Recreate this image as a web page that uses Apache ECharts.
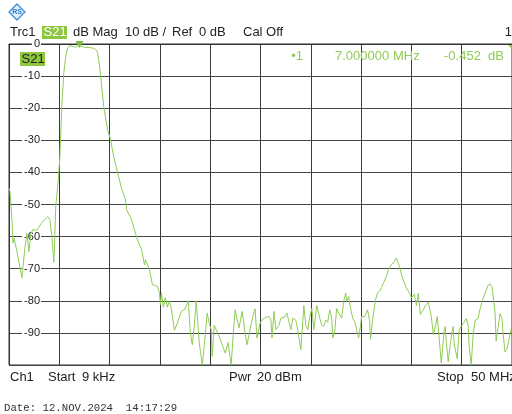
<!DOCTYPE html>
<html>
<head>
<meta charset="utf-8">
<script src="https://cdn.jsdelivr.net/npm/echarts@6/dist/echarts.min.js"></script>
<style>html,body{margin:0;padding:0;background:#fff}#c{width:512px;height:414px}</style>
</head>
<body>
<div id="c"></div>
<script>
// Frequency in MHz
var freqMHz = [0.01,0.1,0.3,0.4,0.5,0.59,0.79,0.99,1.29,1.58,1.78,1.98,2.18,2.38,2.77,3.27,3.86,4.06,4.26,4.46,4.55,4.65,4.85,4.95,5.05,5.25,5.45,5.64,5.84,6.04,6.34,6.63,7.0,7.43,8.02,8.51,8.71,8.81,9.01,9.21,9.41,9.8,10.1,10.4,10.79,11.19,11.58,11.68,12.18,12.48,12.77,13.17,13.47,13.56,13.96,14.26,14.75,14.95,15.05,15.15,15.35,15.54,15.74,15.94,16.14,16.44,16.73,17.13,17.43,17.62,17.82,18.02,18.22,18.42,18.61,18.91,19.21,19.41,19.7,19.9,20.1,20.2,20.4,20.59,20.89,21.19,21.49,21.78,22.08,22.28,22.48,22.67,22.87,23.17,23.47,23.66,23.96,24.26,24.46,24.65,24.95,25.25,25.64,25.84,26.04,26.14,26.34,26.53,26.83,27.03,27.43,27.62,27.82,28.02,28.22,28.51,28.71,29.01,29.21,29.31,29.5,29.7,29.9,30.1,30.3,30.59,30.89,31.09,31.29,31.49,31.68,31.88,32.08,32.18,32.38,32.57,32.77,33.07,33.27,33.47,33.56,33.76,33.96,34.16,34.36,34.55,34.75,34.95,35.05,35.35,35.64,35.84,35.94,36.14,36.44,36.63,36.83,37.03,37.23,37.33,37.52,37.72,38.02,38.32,38.51,38.81,39.11,39.5,39.9,40.0,40.3,40.5,40.69,40.89,41.19,41.39,41.68,41.98,42.18,42.38,42.57,42.77,42.97,43.07,43.27,43.37,43.47,43.66,43.76,43.86,44.06,44.16,44.26,44.36,44.55,44.75,44.95,45.25,45.45,45.64,45.74,45.94,46.14,46.34,46.63,46.83,47.03,47.23,47.43,47.62,47.82,48.02,48.22,48.32,48.42,48.61,48.81,49.01,49.11,49.31,49.5,49.7,49.9];
// S21 magnitude in dB
var s21dB = [-44.9,-46,-55,-62,-60.5,-61,-64.6,-68,-72.8,-63.5,-59,-64.7,-59,-57.8,-58,-55.6,-53.8,-54.7,-60,-68,-60,-50.6,-44,-40,-35.4,-19.4,-9,-3.9,-1.2,-0.5,-0.7,-1.0,-0.452,-1.0,-1.1,-1.4,-2.0,-2.8,-7,-13,-19.4,-26.7,-29.8,-35,-40,-45,-48.5,-51.6,-54.7,-58,-61,-64,-68.8,-67.2,-70.3,-75,-75.5,-77.5,-81.2,-77.5,-82,-79,-82,-80,-82.5,-89.2,-87,-83.3,-82.8,-83.3,-80,-90,-93.7,-88,-80,-93,-100,-94,-83.8,-87,-89,-97.3,-87.6,-89,-91,-93.7,-96.3,-93,-100,-91,-82.8,-85.7,-88.4,-83.3,-90,-93.7,-89,-84.6,-82.5,-91.6,-87,-85.7,-85,-84.9,-86,-91.6,-83.3,-89,-87.6,-85.4,-85,-83.8,-86.4,-89,-85.4,-86,-89.2,-95.2,-86,-81.5,-87.6,-89,-85,-82.4,-89,-81.5,-85.4,-87.6,-88,-86,-86.7,-82.8,-85.4,-91.6,-89.6,-82.4,-83.8,-85.4,-80.2,-77.6,-80.2,-78.6,-82.4,-85.4,-86.4,-87,-91.6,-87.6,-84.9,-84.9,-82.8,-86,-92,-86,-79.6,-77.6,-77,-75.9,-74.4,-74.9,-72.4,-70.3,-68.7,-67.7,-66.7,-69.3,-72.9,-76,-78.1,-79.1,-78,-81.5,-77.6,-84.3,-82.8,-81.5,-80.5,-84.9,-90.6,-88,-84.9,-92,-99.4,-100,-89,-88,-92.8,-99,-99,-93.5,-89.6,-88,-93.8,-95,-98,-89,-88,-86.6,-85.5,-87.6,-94,-100,-90.5,-86,-85.5,-82.5,-80.3,-78.3,-76.7,-75.2,-74.7,-75.8,-81,-84,-92.5,-88.4,-84,-85.5,-90,-96,-95,-92,-89];
var yTicks = [0,-10,-20,-30,-40,-50,-60,-70,-80,-90];
var markerFreq = 7.0, markerVal = -0.452;
var header = {trace:'Trc1', param:'S21', fmt:'dB Mag', scale:'10 dB /', ref:'Ref', refVal:'0 dB', cal:'Cal Off', num:'1'};
var footer = {ch:'Ch1', start:'Start', startVal:'9 kHz', pwr:'Pwr', pwrVal:'20 dBm', stop:'Stop', stopVal:'50 MHz'};
var dateText = 'Date: 12.NOV.2024  14:17:29';

var GREEN = '#8fcc55';
var data = freqMHz.map(function(f,i){return [f, s21dB[i]];});
var F = '13px "Liberation Sans", Arial, sans-serif';
function t(x,y,text,extra){
  var st = {text:text, font:F, fill:'#222', verticalAlign:'middle', align:'left'};
  if (extra) for (var k in extra) st[k]=extra[k];
  return {type:'text', x:x, y:y, style:st, z:10};
}
var chart = echarts.init(document.getElementById('c'));
chart.setOption({
  animation:false,
  grid:{left:9, right:-2, top:44, bottom:49, show:true, borderColor:'#333', borderWidth:1},
  xAxis:{type:'value', min:0, max:50, interval:5,
    axisLine:{show:true, lineStyle:{color:'#333'}}, axisTick:{show:false}, axisLabel:{show:false},
    splitLine:{show:true, lineStyle:{color:'#3a3a3a', width:1}}},
  yAxis:{type:'value', min:-100, max:0, interval:10,
    axisLine:{show:true, lineStyle:{color:'#333'}}, axisTick:{show:false},
    splitLine:{show:true, lineStyle:{color:'#444', width:1}},
    axisLabel:{show:true, inside:true, align:'right', margin:32, color:'#222',
      fontSize:11, fontFamily:'"Liberation Sans", Arial, sans-serif',
      backgroundColor:'#fff', padding:[0,1,0,2],
      formatter:function(v){ return yTicks.indexOf(v)>=0 ? String(v) : ''; }}},
  series:[{type:'line', data:data, showSymbol:false, smooth:false,
    lineStyle:{color:GREEN, width:1}, z:5,
    markPoint:{symbol:'triangle', symbolRotate:180, symbolSize:[8,7], symbolOffset:[0,-1],
      itemStyle:{color:'#7cbd3f'}, label:{show:false},
      data:[{coord:[markerFreq, markerVal]}]}}],
  graphic:[
    {type:'polygon', shape:{points:[[17,4],[25,12],[17,20],[9,12]]}, style:{fill:'#e4f1fb', stroke:'#3a8fd8', lineWidth:1.3}},
    {type:'text', x:17, y:12, style:{text:'RS', font:'bold 7px sans-serif', fill:'#2c7cc8', align:'center', verticalAlign:'middle'}},
    t(10,32.5,header.trace),
    {type:'rect', shape:{x:42,y:26,width:25,height:13}, style:{fill:'#8dc63f'}},
    t(43.5,32.5,header.param,{fill:'#fff'}),
    t(73,32.5,header.fmt),
    t(125,32.5,header.scale),
    t(172,32.5,header.ref),
    t(199,32.5,header.refVal),
    t(243,32.5,header.cal),
    t(512,32.5,header.num,{align:'right'}),
    {type:'polygon', shape:{points:[[507,44],[513,44],[513,50]]}, style:{fill:'#8dc63f'}},
    {type:'rect', shape:{x:20,y:52,width:25,height:14}, style:{fill:'#8dc63f'}, z:10},
    t(21.5,59,header.param),
    t(303,56,'\u20221',{fill:GREEN, align:'right'}),
    t(335,56,'7.000000',{fill:GREEN}),
    t(393,56,'MHz',{fill:GREEN}),
    t(444,56,'-0.452',{fill:GREEN}),
    t(488,56,'dB',{fill:GREEN}),
    t(10,377,footer.ch),
    t(48,377,footer.start),
    t(82,377,footer.startVal),
    t(229,377,footer.pwr),
    t(257,377,footer.pwrVal),
    t(437,377,footer.stop),
    t(471,377,footer.stopVal),
    {type:'text', x:4, y:408, style:{text:dateText, font:'10.7px "Liberation Mono", "DejaVu Sans Mono", monospace', fill:'#333', verticalAlign:'middle'}}
  ]
});
</script>
</body>
</html>
